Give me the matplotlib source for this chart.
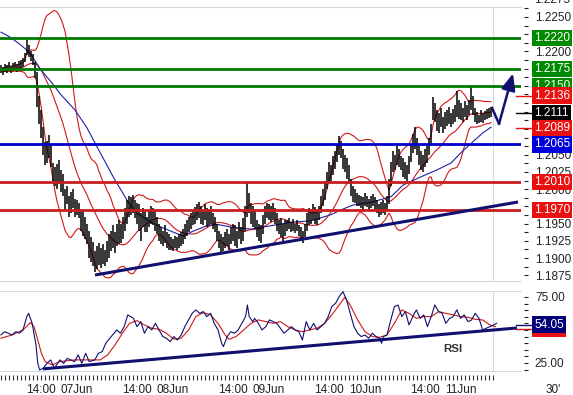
import numpy as np
import pandas as pd
import matplotlib
matplotlib.use("Agg")
import matplotlib.pyplot as plt
from matplotlib import transforms
from matplotlib.ticker import MultipleLocator, FixedLocator, FuncFormatter

plt.rcParams['font.family'] = ['Liberation Sans', 'DejaVu Sans']

# 30' bars, high / low in pips above 1.1800
high_pips = [380, 378, 382, 381, 384, 379, 383, 385, 382, 386, 388, 391, 398, 417, 410, 400, 396, 385, 370, 335,
             315, 290, 268, 270, 279, 265, 238, 232, 236, 243, 228, 222, 200, 205, 190, 196, 200, 186, 184, 180,
             168, 170, 160, 150, 140, 130, 124, 110, 118, 122, 115, 120, 112, 125, 135, 140, 148, 138, 150, 155,
             150, 160, 172, 185, 190, 188, 192, 185, 180, 178, 165, 172, 168, 160, 170, 175, 172, 168, 160, 150,
             145, 140, 148, 138, 135, 130, 128, 132, 130, 135, 138, 142, 150, 155, 160, 165, 170, 174, 178, 181,
             176, 170, 178, 172, 168, 175, 165, 160, 150, 140, 135, 130, 138, 142, 135, 145, 150, 148, 140, 152,
             145, 158, 175, 210, 195, 180, 175, 170, 155, 150, 148, 162, 175, 180, 178, 175, 180, 172, 165, 155,
             158, 150, 155, 155, 158, 152, 156, 150, 155, 148, 145, 140, 150, 165, 172, 170, 178, 174, 168, 175,
             190, 200, 212, 225, 240, 235, 248, 255, 265, 277, 270, 258, 250, 245, 235, 215, 205, 200, 195, 192,
             190, 188, 194, 190, 186, 190, 193, 188, 185, 178, 182, 185, 180, 190, 215, 240, 255, 250, 262, 258,
             248, 245, 240, 235, 248, 265, 280, 290, 275, 262, 255, 250, 258, 262, 275, 295, 334, 325, 315, 310,
             318, 305, 312, 315, 319, 310, 316, 322, 343, 330, 325, 318, 328, 322, 330, 350, 335, 318, 312, 308,
             315, 310, 314, 316, 318, 320]
low_pips = [368, 366, 370, 369, 372, 368, 371, 373, 370, 374, 376, 378, 384, 395, 392, 386, 380, 362, 320, 295,
            275, 250, 235, 238, 245, 232, 212, 205, 200, 210, 196, 190, 170, 178, 160, 165, 172, 160, 162, 158,
            140, 132, 128, 120, 100, 94, 88, 80, 84, 90, 86, 92, 88, 95, 100, 110, 115, 108, 118, 120,
            122, 128, 140, 150, 160, 162, 165, 158, 150, 140, 125, 145, 138, 138, 145, 150, 148, 140, 135, 125,
            120, 118, 122, 115, 112, 112, 110, 114, 112, 115, 118, 120, 128, 132, 138, 142, 148, 150, 155, 158,
            150, 148, 155, 145, 148, 150, 142, 138, 125, 115, 108, 110, 115, 118, 112, 120, 125, 118, 115, 128,
            120, 125, 140, 160, 165, 150, 145, 142, 130, 125, 122, 135, 150, 158, 155, 152, 155, 150, 140, 135,
            130, 125, 132, 140, 142, 138, 140, 136, 140, 132, 125, 122, 130, 140, 148, 150, 155, 150, 148, 155,
            165, 175, 185, 200, 210, 212, 220, 230, 240, 250, 245, 230, 225, 215, 208, 190, 182, 180, 176, 175,
            172, 170, 176, 174, 170, 172, 175, 170, 165, 160, 162, 165, 162, 168, 178, 205, 225, 228, 235, 232,
            228, 218, 215, 212, 222, 240, 252, 258, 250, 235, 228, 225, 232, 238, 250, 265, 300, 298, 285, 282,
            290, 282, 288, 292, 295, 290, 294, 298, 305, 302, 300, 298, 305, 300, 308, 315, 308, 298, 295, 296,
            298, 296, 300, 302, 303, 305]

# blue moving average, read at these bars
ma_bar = [0, 5, 10, 14, 16, 20, 25, 30, 37, 43, 47, 52, 57, 61, 63, 68, 75, 80, 85, 91, 96, 103, 108, 115,
          125, 135, 145, 155, 165, 170, 176, 185, 195, 201, 210, 218, 225, 230, 236, 241, 245]
ma_price = [1.2228, 1.2220, 1.2209, 1.2199, 1.2191, 1.2173, 1.2156, 1.2137, 1.2115, 1.2089, 1.2067, 1.2040,
            1.2013, 1.1994, 1.1984, 1.1965, 1.1952, 1.1945, 1.1939, 1.1932, 1.1939, 1.1947, 1.1949, 1.1945,
            1.1942, 1.1947, 1.1952, 1.1954, 1.1963, 1.1970, 1.1977, 1.1981, 1.1989, 1.2006, 1.2018, 1.2028,
            1.2038, 1.2053, 1.2069, 1.2082, 1.2090]

# RSI and its signal line
rsi_bar = [0, 1.8, 3.7, 5.5, 7.4, 9.2, 11, 12.9, 13.8, 15.6, 17.5, 18.4, 19.3, 21.1, 23, 24.8, 26.7, 29.4, 31.3,
           33.1, 36.8, 38.6, 40.4, 42.3, 44.1, 46.9, 48.7, 50.6, 52.4, 55.1, 57.9, 59.7, 61.6, 63.4, 66.2, 68,
           69.9, 71.7, 73.5, 75.4, 77.2, 79, 80.9, 82.7, 84.6, 86.4, 88.2, 90.1, 91.9, 93.8, 95.6, 97.4, 99.3,
           101.1, 102.9, 104.8, 106.6, 108.5, 110.3, 111.2, 113.1, 114.9, 116.7, 118.6, 120.4, 122.3, 123.2,
           124.1, 125.9, 126.8, 128.7, 130.5, 132.4, 134.2, 136, 137.9, 139.7, 141.5, 143.4, 145.2, 147.1,
           148.9, 150.7, 152.6, 154.4, 156.3, 158.1, 159.9, 161.8, 163.6, 165.4, 167.3, 169.1, 171, 172.8,
           174.6, 176.5, 178.3, 180.1, 182, 183.8, 185.7, 187.5, 189.3, 190.3, 191.2, 193, 194.9, 196.7, 198.5,
           200.4, 202.2, 204, 205.9, 207.7, 209.6, 211.4, 213.2, 215.1, 216.9, 218.8, 220.6, 222.4, 224.3,
           226.1, 227.9, 229.8, 231.6, 233.5, 235.3, 237.1, 239, 240.8, 242.6, 244.5, 246.3, 247.8]
rsi_val = [46.2, 48.7, 47.5, 46.2, 48.7, 47.5, 50, 60.1, 62.6, 55, 38.6, 24.7, 19.7, 21, 24.7, 27.3, 21, 27.3,
           24.7, 28.5, 26, 31.1, 24.7, 32.3, 26, 27.3, 32.3, 33.6, 39.9, 45, 50, 47.5, 52.5, 61.4, 58.8, 52.5,
           56.3, 47.5, 52.5, 50, 55, 50, 45, 43.7, 41.2, 45, 42.4, 46.2, 52.5, 57.6, 62.6, 65.2, 62.6, 63.9,
           60.1, 62.6, 55, 50, 40, 37.4, 45, 48.7, 47.5, 50, 55, 60.1, 68.9, 60.1, 56.3, 58.8, 55, 50, 52.5,
           57.6, 56.3, 55, 51.3, 47.5, 50, 52.5, 50, 48.7, 42.4, 56.3, 50, 55, 50, 52.5, 55, 60.1, 67.7, 70.2,
           75.3, 79, 72.7, 62.6, 52.5, 47.5, 45, 46.2, 43.7, 47.5, 45, 43.7, 39.9, 45, 46.2, 57.6, 67.7, 68.9,
           60.1, 63.9, 53.8, 60.1, 65.2, 58.8, 61.4, 52.5, 60.1, 68.9, 63.9, 62.6, 55, 58.8, 60.1, 65.2, 58.8,
           61.4, 56.3, 57.6, 62.6, 58.8, 50, 51.3, 52.5, 53.8, 55]
sig_bar = [0, 5.5, 11, 14.7, 16.5, 18.4, 20.2, 22.1, 25.7, 29.4, 36.8, 44.1, 49.6, 53.3, 57, 60.7, 64.3, 68,
           71.7, 75.4, 79, 82.7, 86.4, 90.1, 93.8, 97.4, 101.1, 104.8, 108.5, 112.1, 114, 117.6, 121.3, 125,
           128.7, 132.4, 136, 139.7, 143.4, 147.1, 150.7, 154.4, 158.1, 161.8, 165.4, 169.1, 171.9, 174.6,
           178.3, 182, 185.7, 189.3, 193, 196.7, 200.4, 204, 207.7, 211.4, 215.1, 218.8, 222.4, 226.1, 229.8,
           233.5, 237.1, 240.8, 244.5, 247.2]
sig_val = [43.7, 46.2, 50, 55.6, 52.5, 42.4, 32.3, 26, 23.5, 26, 27.3, 27.3, 27.3, 31.1, 38.6, 47.5, 55, 57.1,
           53.8, 51.3, 50.5, 47.5, 43, 43.7, 50, 60.1, 63.1, 61.4, 55, 46.2, 42.9, 45, 50, 55, 57.6, 56.3, 55,
           56.3, 52.5, 50, 48.7, 50, 51.3, 55, 61.4, 68.9, 74.7, 68.9, 57.6, 48.7, 45, 44.4, 46.2, 55, 65.2,
           62.6, 58.8, 60.1, 60.1, 63.9, 62.6, 61.4, 60.1, 59.6, 58.1, 57.6, 53.8, 52.5]

green_levels = [1.2220, 1.2175, 1.2150]
red_levels = [1.2010, 1.1970]
blue_levels = [1.2065]
last_values = [1.2136, 1.2111, 1.2089]
last_colors = ['#e81010', '#000000', '#e81010']
rsi_last = 54.05
sig_last = 50.80

trend_bar = [47, 258.5]
trend_price = [1.18754, 1.19814]
rsi_trend_bar = [21, 258]
rsi_trend_val = [20.5, 51.5]
arrow_bar = [245.5, 249, 256]
arrow_price = [1.2118, 1.2095, 1.2168]

hour_pos = [20, 68, 116, 164, 212]
day_pos = [38, 86, 134, 182, 230]
day_labels = ['07Jun', '08Jun', '09Jun', '10Jun', '11Jun']

navy = '#10106e'
band_red = '#d01818'
frame = '#d3dbe2'

high = 1.18 + np.array(high_pips) / 1e4
low = 1.18 + np.array(low_pips) / 1e4
bars = np.arange(len(high))

# bollinger bands 20 / 2 from bar mid prices
mid = pd.Series((high + low) / 2)
bb_mid = mid.rolling(20, min_periods=1).mean()
bb_sd = mid.rolling(20, min_periods=1).std(ddof=0)
bb_up = bb_mid + 2 * bb_sd
bb_lo = bb_mid - 2 * bb_sd

fig = plt.figure(figsize=(5.73, 3.95), dpi=100)
W = 521 / 573
ax = fig.add_axes([0, 1 - 281 / 395, W, 274 / 395])
ax2 = fig.add_axes([0, 1 - 371 / 395, W, 80 / 395])

for a in (ax, ax2):
    a.set_xlim(-0.5, 260)
    a.set_xticks([])
    for s in ('left', 'right'):
        a.spines[s].set_visible(False)
    for s in ('top', 'bottom'):
        a.spines[s].set_color(frame)
        a.spines[s].set_linewidth(0.8)
    a.spines['right'].set_position(('outward', 2))
    a.yaxis.tick_right()
    a.tick_params(axis='y', which='both', direction='out', length=3, width=0.8,
                  colors='#222222', pad=5, labelsize=8.5)
    a.axvline(246, color=frame, lw=0.8, zorder=0)

# ---- price panel
ax.set_ylim(1.18667, 1.22645)
ax.yaxis.set_major_locator(MultipleLocator(0.0025))
ax.yaxis.set_minor_locator(MultipleLocator(0.00125))
covered = {1.2225, 1.2175, 1.2150, 1.2125, 1.2100, 1.2075, 1.1975}
ax.yaxis.set_major_formatter(FuncFormatter(lambda v, p: '' if round(v, 4) in covered else f'{v:.4f}'))

ax.plot(bars, bb_up, color=band_red, lw=0.8, zorder=2)
ax.plot(bars, bb_mid, color=band_red, lw=0.8, zorder=2)
ax.plot(bars, bb_lo, color=band_red, lw=0.8, zorder=2)
ax.plot(ma_bar, ma_price, color='#2020a8', lw=0.8, zorder=2)
ax.vlines(bars, low, high, color='black', lw=1.1, zorder=3)

for p in green_levels:
    ax.axhline(p, color='#007a00', lw=2.0, zorder=4)
for p in red_levels:
    ax.axhline(p, color='#c81e1e', lw=2.0, zorder=4)
for p in blue_levels:
    ax.axhline(p, color='#0000c8', lw=2.0, zorder=4)

ax.plot(trend_bar, trend_price, color=navy, lw=2.2, zorder=5, solid_capstyle='butt')
ax.plot(arrow_bar[:2], arrow_price[:2], color=navy, lw=1.8, zorder=5)
ax.annotate('', xy=(arrow_bar[2], arrow_price[2]), xytext=(arrow_bar[1], arrow_price[1]),
            arrowprops=dict(arrowstyle='-|>,head_length=1.0,head_width=0.42', color=navy, lw=1.8,
                            shrinkA=0, shrinkB=0, mutation_scale=10), zorder=5)

lab_tr = transforms.blended_transform_factory(ax.transAxes, ax.transData) + \
    transforms.ScaledTranslation(13 / 100, 0, fig.dpi_scale_trans)
mark_tr = transforms.blended_transform_factory(ax.transAxes, ax.transData)


def box(a, tr, y, txt, fc):
    a.text(1.0, y, txt, transform=tr, ha='left', va='center', color='white', fontsize=8.5, zorder=10,
           clip_on=False, bbox=dict(boxstyle='square,pad=0.18', fc=fc, ec='none'))


for p in green_levels:
    box(ax, lab_tr, p, f'{p:.4f}', '#008a00')
for p in red_levels:
    box(ax, lab_tr, p, f'{p:.4f}', '#e81010')
for p in blue_levels:
    box(ax, lab_tr, p, f'{p:.4f}', '#0000dc')
for p, c in zip(last_values, last_colors):
    ax.plot([0.99, 1.02], [p, p], transform=mark_tr, color=c, lw=1.0, clip_on=False, zorder=6)
    box(ax, lab_tr, p, f'{p:.4f}', c)
ax.text(1.0, 1.2275, '1.2275', transform=lab_tr, ha='left', va='center', fontsize=8.5, color='#222222')

# ---- RSI panel
ax2.set_ylim(18.9, 79.5)
ax2.yaxis.set_major_locator(FixedLocator([25, 75]))
ax2.yaxis.set_minor_locator(MultipleLocator(5))
ax2.yaxis.set_major_formatter(FuncFormatter(lambda v, p: f'{v:.2f}'))

ax2.plot(sig_bar, sig_val, color=band_red, lw=0.8, zorder=3)
ax2.plot(rsi_bar, rsi_val, color=navy, lw=0.8, zorder=4)
ax2.plot(rsi_trend_bar, rsi_trend_val, color=navy, lw=2.2, zorder=5, solid_capstyle='butt')
ax2.text(221, 35.6, 'RSI', fontsize=8.2, fontweight='bold', color='#333333', ha='left', va='center')

lab_tr2 = transforms.blended_transform_factory(ax2.transAxes, ax2.transData) + \
    transforms.ScaledTranslation(13 / 100, 0, fig.dpi_scale_trans)
mark_tr2 = transforms.blended_transform_factory(ax2.transAxes, ax2.transData)
ax2.plot([0.99, 1.02], [sig_last, sig_last], transform=mark_tr2, color=band_red, lw=1.0, clip_on=False)
ax2.plot([0.99, 1.02], [rsi_last, rsi_last], transform=mark_tr2, color=navy, lw=1.0, clip_on=False)
box(ax2, lab_tr2, sig_last, f'{sig_last:.2f}', '#e81010')
box(ax2, lab_tr2, rsi_last, f'{rsi_last:.2f}', '#000078')

# hourly ticks under the RSI panel
xt = ax2.get_xaxis_transform()
ax2.vlines(np.arange(0, 247, 2), -0.05, -0.11, transform=xt, color='#333333', lw=0.8, clip_on=False)
for x in hour_pos:
    ax2.text(x, -0.24, '14:00', transform=xt, ha='center', va='center', fontsize=8.5, color='#222222')
for x, t in zip(day_pos, day_labels):
    ax2.text(x, -0.24, t, transform=xt, ha='center', va='center', fontsize=8.5, color='#222222')
fig.text(553 / 573, 1 - 390 / 395, "30'", ha='center', va='center', fontsize=8.5, color='#222222')

fig.savefig('out.png', dpi=100)
